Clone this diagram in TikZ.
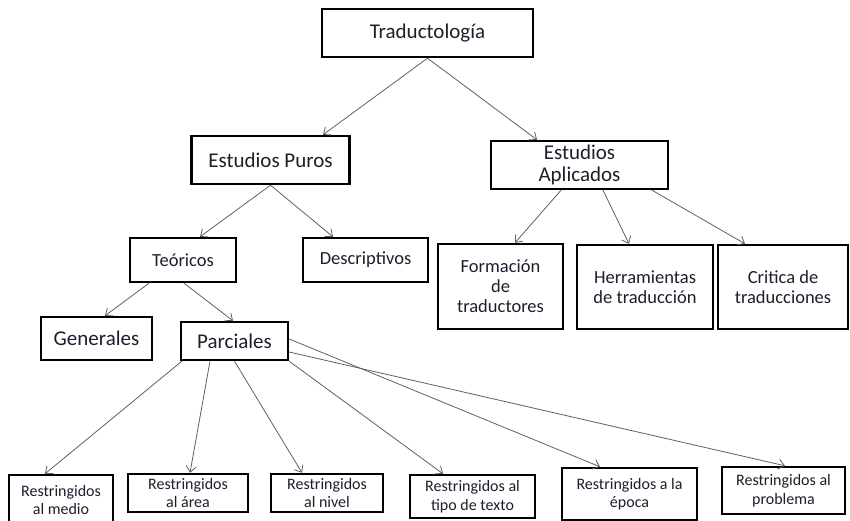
\documentclass[tikz,border=0pt]{standalone}
\usepackage{fontspec}
\setmainfont{Carlito}
\usetikzlibrary{arrows.meta}
\definecolor{txt}{RGB}{30,30,45}
\definecolor{conn}{RGB}{95,95,95}
\tikzset{
  box/.style={draw=black, line width=2.4pt, fill=white, text=txt, align=center, inner sep=1pt},
  big/.style={box, font=\fontsize{21}{22}\selectfont},
  mid/.style={box, font=\fontsize{18.5}{20}\selectfont},
  small/.style={box, font=\fontsize{16}{18.5}\selectfont},
  conn/.style={draw=conn, line width=0.8pt, -{Straight Barb[length=6pt,width=10pt]}}
}
\begin{document}
\begin{tikzpicture}[x=1pt,y=-1pt]
\useasboundingbox (0,0) rectangle (850,520);
% top levels
\node[big, minimum width=211pt, minimum height=48pt] (trad) at (427.5,33) {Traductología};
\node[big, minimum width=158pt, minimum height=48pt] (puros) at (270.5,160) {Estudios Puros};
\node[big, minimum width=177pt, minimum height=48pt] (aplic) at (579.5,165) {Estudios\\Aplicados};
\node[mid, minimum width=106pt, minimum height=44pt] (teor) at (183,260) {Teóricos};
\node[mid, minimum width=125pt, minimum height=44pt] (desc) at (365.5,260) {Descriptivos};
\node[big, minimum width=111pt, minimum height=43pt] (gen) at (96.5,338.5) {Generales};
\node[big, minimum width=107pt, minimum height=38pt] (parc) at (234.5,341) {Parciales};
\node[mid, minimum width=125pt, minimum height=85pt] (form) at (500.5,286.5) {Formación\\de\\traductores};
\node[mid, minimum width=136pt, minimum height=84pt] (herr) at (645,287) {Herramientas\\de traducción};
\node[mid, minimum width=130pt, minimum height=84pt] (crit) at (783,287) {Critica de\\traducciones};
% bottom row
\node[small, minimum width=104pt, minimum height=50pt] (medio) at (61,500) {Restringidos\\al medio};
\node[small, minimum width=120pt, minimum height=38pt] (area) at (188,493) {Restringidos\\al área};
\node[small, minimum width=112pt, minimum height=38pt] (nivel) at (327,493) {Restringidos\\al nivel};
\node[small, minimum width=125pt, minimum height=43pt] (tipo) at (472.5,496.5) {Restringidos al\\tipo de texto};
\node[small, minimum width=135pt, minimum height=52pt] (epoca) at (629.5,494) {Restringidos a la\\época};
\node[small, minimum width=123pt, minimum height=47pt] (probl) at (783.5,490.5) {Restringidos al\\problema};
% connectors
\draw[conn] (trad.south) -- ([xshift=52.5pt]puros.north);
\draw[conn] (trad.south) -- ([xshift=-42.5pt]aplic.north);
\draw[conn] (puros.south) -- ([xshift=17pt]teor.north);
\draw[conn] (puros.south) -- ([xshift=-32.5pt]desc.north);
\draw[conn] ([xshift=-18.5pt]aplic.south) -- ([xshift=14.5pt]form.north);
\draw[conn] ([xshift=23.5pt]aplic.south) -- ([xshift=-16pt]herr.north);
\draw[conn] ([xshift=72.5pt]aplic.south) -- ([xshift=-38pt]crit.north);
\draw[conn] ([xshift=-34pt]teor.south) -- ([xshift=8.5pt]gen.north);
\draw[conn] ([xshift=1pt]teor.south) -- ([xshift=-1.5pt]parc.north);
\draw[conn] ([xshift=2pt]parc.south west) -- ([xshift=-16pt]medio.north);
\draw[conn] ([xshift=-24.5pt]parc.south) -- ([xshift=2pt]area.north);
\draw[conn] (parc.south) -- ([xshift=-25pt]nivel.north);
\draw[conn] (parc.south east) -- ([xshift=-29.5pt]tipo.north);
\draw[conn] ([yshift=2pt]parc.east) -- ([xshift=-29.5pt]epoca.north);
\draw[conn] ([yshift=-11pt]parc.east) -- ([xshift=1.5pt]probl.north);
\end{tikzpicture}
\end{document}
